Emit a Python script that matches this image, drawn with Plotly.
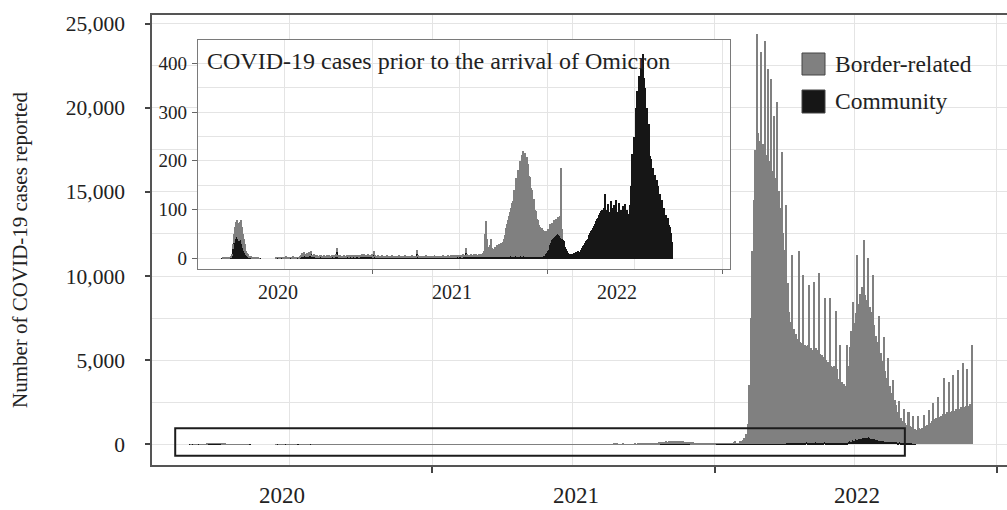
import pandas as pd
import plotly.graph_objects as go

# Reported COVID-19 cases, summed over consecutive 2-day bins.
# Each year's list starts at the date given in BIN_START.
BIN_START = {"2020": "2020-02-20", "2021": "2021-01-01", "2022": "2022-01-01"}
OMICRON_ARRIVAL = "2022-02-01"

community_2020 = [
    0, 1, 1, 1, 1, 2, 1, 1, 1, 2,
    3, 7, 20, 32, 40, 44, 45, 40, 36, 38,
    38, 30, 22, 17, 12, 10, 7, 5, 4, 3,
    2, 2, 1, 1, 0, 1, 1, 0, 1, 0,
    1, 0, 0, 0, 0, 0, 0, 0, 0, 0,
    0, 0, 0, 0, 0, 0, 0, 1, 1, 2,
    1, 1, 2, 1, 1, 2, 1, 2, 1, 2,
    1, 1, 2, 1, 2, 2, 1, 2, 1, 1,
    2, 1, 2, 5, 7, 5, 8, 6, 5, 6,
    5, 8, 6, 9, 4, 5, 6, 4, 3, 4,
    5, 2, 3, 4, 4, 2, 3, 4, 2, 3,
    4, 2, 4, 3, 2, 4, 5, 3, 4, 5,
    14, 5, 3, 2, 4, 3, 2, 3, 4, 2,
    3, 4, 4, 3, 5, 4, 3, 4, 4, 2,
    4, 5, 4, 3, 4, 5, 6, 4, 4, 5,
    4, 4, 5, 6, 4, 4, 5, 5,
]
border_2020 = [
    0, 0, 1, 0, 1, 1, 1, 0, 1, 1,
    1, 3, 10, 18, 25, 32, 35, 34, 34, 38,
    42, 36, 28, 23, 18, 14, 9, 7, 5, 3,
    3, 2, 2, 1, 1, 1, 1, 1, 1, 1,
    0, 0, 0, 0, 0, 0, 0, 0, 0, 0,
    0, 0, 0, 0, 0, 0, 0, 1, 0, 1,
    1, 1, 1, 0, 1, 1, 1, 2, 1, 1,
    1, 0, 1, 1, 1, 2, 1, 1, 1, 0,
    1, 1, 2, 3, 5, 4, 6, 4, 3, 5,
    4, 5, 4, 6, 2, 3, 4, 3, 2, 2,
    3, 2, 2, 3, 2, 2, 2, 2, 1, 2,
    3, 2, 2, 2, 2, 2, 3, 2, 2, 4,
    8, 3, 2, 2, 2, 2, 1, 2, 2, 2,
    2, 3, 2, 2, 3, 2, 2, 3, 2, 2,
    2, 3, 3, 2, 2, 3, 4, 3, 2, 4,
    3, 2, 3, 4, 3, 2, 3, 4,
]

community_2021 = [
    3, 8, 4, 2, 3, 4, 2, 2, 3, 4,
    2, 3, 2, 2, 4, 3, 2, 2, 3, 2,
    4, 2, 2, 3, 2, 2, 3, 4, 2, 2,
    3, 2, 2, 4, 2, 3, 2, 2, 3, 2,
    2, 4, 3, 2, 2, 3, 10, 4, 2, 3,
    2, 2, 3, 2, 2, 4, 2, 2, 3, 2,
    2, 3, 2, 2, 4, 2, 3, 2, 2, 3,
    2, 2, 3, 4, 2, 2, 3, 2, 4, 3,
    2, 4, 3, 4, 3, 4, 2, 4, 4, 3,
    4, 5, 4, 3, 6, 5, 4, 12, 5, 4,
    5, 4, 6, 4, 5, 6, 4, 6, 5, 4,
    5, 5, 6, 4, 5, 7, 4, 5, 3, 4,
    3, 4, 3, 5, 3, 4, 3, 4, 3, 4,
    3, 4, 3, 4, 5, 4, 4, 5, 4, 5,
    4, 5, 4, 5, 5, 4, 5, 4, 5, 5,
    4, 5, 4, 5, 5, 4, 5, 5, 4, 5,
    4, 5, 4, 5, 4, 5, 4, 5, 4, 4,
    5, 4, 4, 5, 4, 5, 4, 5, 6, 9,
    12, 15, 18,
]
border_2021 = [
    2, 7, 2, 2, 2, 3, 2, 1, 2, 2,
    2, 2, 1, 2, 2, 2, 1, 2, 2, 2,
    2, 1, 2, 2, 2, 1, 2, 2, 2, 1,
    2, 2, 1, 2, 2, 2, 1, 2, 2, 1,
    2, 2, 2, 2, 1, 2, 8, 2, 2, 2,
    1, 2, 2, 1, 2, 2, 2, 1, 2, 2,
    1, 2, 2, 1, 2, 2, 2, 1, 2, 2,
    2, 1, 2, 2, 2, 1, 2, 2, 2, 2,
    2, 2, 2, 3, 2, 2, 2, 3, 2, 2,
    2, 3, 3, 2, 3, 3, 3, 10, 4, 2,
    3, 3, 4, 2, 3, 3, 3, 4, 3, 3,
    4, 3, 4, 3, 4, 5, 11, 45, 74, 36,
    22, 16, 25, 35, 19, 14, 17, 21, 19, 24,
    22, 26, 25, 28, 25, 31, 36, 43, 51, 58,
    68, 75, 84, 90, 100, 111, 113, 138, 133, 160,
    146, 177, 166, 195, 183, 210, 216, 200, 214, 191,
    204, 183, 191, 165, 164, 140, 138, 115, 118, 96,
    93, 78, 76, 65, 62, 58, 59, 55, 52, 48,
    45, 43, 42,
]

community_2022 = [
    22, 29, 33, 38, 40, 43, 45, 47, 49, 50,
    50, 48, 46, 43, 40, 38, 36, 30, 25, 20,
    15, 12, 9, 9, 10, 8, 10, 12, 11, 14,
    12, 15, 14, 13, 18, 22, 26, 29, 32, 36,
    38, 41, 43, 48, 52, 56, 60, 63, 68, 72,
    78, 82, 84, 90, 94, 98, 100, 96, 105, 132,
    100, 84, 112, 88, 96, 118, 90, 104, 86, 110,
    92, 120, 96, 88, 114, 90, 100, 84, 108, 96,
    112, 94, 100, 80, 92, 110, 150, 215, 160, 250,
    230, 310, 290, 345, 330, 375, 360, 392, 385, 420,
    370, 351, 300, 310, 250, 276, 210, 205, 180, 187,
    160, 172, 150, 162, 140, 150, 125, 132, 110, 120,
    100, 104, 86, 90, 80, 84, 70, 66, 52, 35,
    0, 0, 0, 0, 0, 0, 0, 0, 0, 0,
    0, 0, 0, 0, 0, 0, 0, 0, 0, 0,
    0, 0, 0, 0, 0, 0, 0, 0, 0, 0,
    0, 0, 0, 0, 0, 0, 0,
]
border_2022 = [
    40, 30, 38, 26, 34, 27, 35, 28, 33, 26,
    36, 33, 42, 144, 22, 12, 150, 200, 250, 350,
    600, 1200, 3500, 7500, 11500, 14500, 17500, 24350, 18500, 18000,
    23270, 17800, 23950, 17200, 22260, 16800, 21670, 16200, 19490, 15800,
    20300, 15000, 14000, 17330, 12500, 11500, 14140, 9500, 7800, 7200,
    11170, 6800, 6500, 6200, 11380, 6000, 5900, 9980, 5800, 5700,
    5800, 9380, 5600, 5500, 9580, 5600, 5500, 10080, 5300, 5200,
    5100, 8590, 4900, 4800, 8590, 4600, 4500, 4600, 7810, 4400,
    3800, 5810, 3600, 3500, 3400, 5800, 4500, 5600, 6600, 8190,
    7000, 7500, 10970, 8000, 8600, 9000, 11760, 8500, 8200, 10670,
    7800, 7500, 9780, 6800, 6200, 5800, 7400, 5200, 4800, 6200,
    4200, 3800, 5000, 3300, 2900, 3650, 2500, 2200, 1800, 2450,
    1500, 1300, 2050, 1200, 1100, 1850, 1000, 950, 1650, 900,
    880, 1700, 950, 900, 1000, 1750, 1100, 1150, 2050, 1300,
    1400, 2450, 1500, 1550, 2840, 1650, 1700, 1800, 3950, 1800,
    1900, 3700, 1900, 2000, 4130, 2000, 2100, 4430, 2100, 2200,
    4840, 2200, 2300, 4500, 2300, 2400, 5920,
]

series_names = ["Border-related", "Community"]
main_year_labels = ["2020", "2021", "2022"]
main_label_dates = ["2020-06-21", "2021-07-06", "2022-07-04"]
inset_year_labels = ["2020", "2021", "2022"]
inset_label_dates = ["2020-06-18", "2021-06-16", "2022-05-26"]
inset_title = "COVID-19 cases prior to the arrival of Omicron"
y_title = "Number of COVID-19 cases reported"

# ---------------------------------------------------------------- data prep
years = [
    ("2020", community_2020, border_2020),
    ("2021", community_2021, border_2021),
    ("2022", community_2022, border_2022),
]
frames = []
for year, comm, bord in years:
    assert len(comm) == len(bord)
    centres = pd.date_range(BIN_START[year], periods=len(comm), freq="2D") + pd.Timedelta(days=1)
    frames.append(pd.DataFrame({"date": centres, "community": comm, "border": bord}))
df = pd.concat(frames, ignore_index=True)
pre = df[df["date"] < pd.Timestamp(OMICRON_ARRIVAL)]

BAR_W = 2 * 24 * 3600 * 1000  # two days, in ms
GREY = "#808080"
BLACK = "#161616"
FONT = "Liberation Serif"
TXT = "#222222"
GRID = "#e4e4e4"

# ---------------------------------------------------------------- geometry
W, H = 1007, 510
ML, MR, MT, MB = 152, 0, 15, 45
PW, PH = W - ML - MR, H - MT - MB


def px_x(x):
    return (x - ML) / PW


def px_y(y):
    return (H - MB - y) / PH


fig = go.Figure()
bar_common = dict(width=BAR_W, marker_line_width=0, showlegend=False, hoverinfo="skip")
fig.add_trace(go.Bar(x=df["date"], y=df["community"], marker_color=BLACK,
                     name=series_names[1], xaxis="x", yaxis="y", **bar_common))
fig.add_trace(go.Bar(x=df["date"], y=df["border"], marker_color=GREY,
                     name=series_names[0], xaxis="x", yaxis="y", **bar_common))
fig.add_trace(go.Bar(x=df["date"], y=df["community"], marker_color=BLACK,
                     name=series_names[1], xaxis="x2", yaxis="y2", **bar_common))
fig.add_trace(go.Bar(x=pre["date"], y=pre["border"], marker_color=GREY,
                     name=series_names[0], xaxis="x2", yaxis="y2", **bar_common))

jan1 = ["2020-01-01", "2021-01-01", "2022-01-01", "2023-01-01"]
jul1 = ["2020-07-01", "2021-07-01", "2022-07-01"]

fig.update_layout(
    width=W, height=H,
    margin=dict(l=ML, r=MR, t=MT, b=MB, pad=0),
    paper_bgcolor="white", plot_bgcolor="white",
    barmode="stack", bargap=0,
    font=dict(family=FONT, color=TXT),
    showlegend=False,
    xaxis=dict(
        domain=[0, 1], anchor="y", type="date",
        range=["2020-01-05", "2023-01-14"],
        tickmode="array", tickvals=jan1, ticktext=["", "", "", ""],
        ticks="outside", ticklen=6, tickwidth=1.5, tickcolor="#444",
        showgrid=True, gridcolor=GRID, gridwidth=1,
        minor=dict(tickmode="array", tickvals=jul1, showgrid=True,
                   gridcolor=GRID, gridwidth=1, ticks=""),
        showline=True, linecolor="#555", linewidth=1.5, mirror=True,
        zeroline=False,
    ),
    yaxis=dict(
        domain=[0, 1], anchor="x",
        range=[-1219, 25505],
        tickmode="array", tickvals=[0, 5000, 10000, 15000, 20000, 25000],
        tickformat=",", ticks="outside", ticklen=5, tickwidth=1.5, tickcolor="#444",
        tickfont=dict(size=21.5, family=FONT, color=TXT), ticklabelstandoff=16,
        showgrid=True, gridcolor=GRID, gridwidth=1,
        minor=dict(tickmode="linear", tick0=0, dtick=2500, showgrid=True,
                   gridcolor=GRID, gridwidth=1, ticks=""),
        showline=True, linecolor="#555", linewidth=1.5, mirror=False,
        zeroline=False,
    ),
    xaxis2=dict(
        domain=[px_x(198), px_x(730)], anchor="y2", type="date",
        range=["2020-01-03", "2023-01-16"],
        tickmode="array", tickvals=jan1, ticktext=["", "", "", ""],
        ticks="outside", ticklen=4, tickwidth=1, tickcolor="#666",
        showgrid=True, gridcolor=GRID, gridwidth=1,
        minor=dict(tickmode="array", tickvals=jul1, showgrid=True,
                   gridcolor=GRID, gridwidth=1, ticks=""),
        showline=True, linecolor="#7a7a7a", linewidth=1.2, mirror=True,
        zeroline=False,
    ),
    yaxis2=dict(
        domain=[px_y(269), px_y(39.5)], anchor="x2",
        range=[-22, 449],
        tickmode="array", tickvals=[0, 100, 200, 300, 400],
        ticks="outside", ticklen=5, tickwidth=1, tickcolor="#666",
        tickfont=dict(size=19, family=FONT, color=TXT), ticklabelstandoff=1,
        showgrid=True, gridcolor=GRID, gridwidth=1,
        minor=dict(tickmode="linear", tick0=0, dtick=50, showgrid=True,
                   gridcolor=GRID, gridwidth=1, ticks=""),
        showline=True, linecolor="#7a7a7a", linewidth=1.2, mirror=True,
        zeroline=False,
    ),
)

annotations = []
for lab, d in zip(main_year_labels, main_label_dates):
    annotations.append(dict(x=d, xref="x", y=px_y(495), yref="paper", text=lab,
                            showarrow=False, xanchor="center", yanchor="middle",
                            font=dict(size=23, family=FONT, color=TXT)))
for lab, d in zip(inset_year_labels, inset_label_dates):
    annotations.append(dict(x=d, xref="x2", y=px_y(292), yref="paper", text=lab,
                            showarrow=False, xanchor="center", yanchor="middle",
                            font=dict(size=20, family=FONT, color=TXT)))
annotations.append(dict(x=px_x(20), y=px_y(250), xref="paper", yref="paper",
                        text=y_title, textangle=-90, showarrow=False,
                        xanchor="center", yanchor="middle",
                        font=dict(size=21, family=FONT, color=TXT)))
annotations.append(dict(x=px_x(205), y=px_y(60.5), xref="paper", yref="paper",
                        text=inset_title, showarrow=False,
                        xanchor="left", yanchor="middle",
                        font=dict(size=24, family=FONT, color=TXT)))

# Legend drawn as swatches plus labels
legend_rows = [(series_names[0], GREY, 53, 75, 64), (series_names[1], BLACK, 90, 113, 101)]
shapes = []
for name, colour, top, bottom, mid in legend_rows:
    shapes.append(dict(type="rect", xref="paper", yref="paper",
                       x0=px_x(802), x1=px_x(825), y0=px_y(bottom), y1=px_y(top),
                       fillcolor=colour, line=dict(color="#444", width=1)))
    annotations.append(dict(x=px_x(833), y=px_y(mid), xref="paper", yref="paper",
                            text=name, showarrow=False, xanchor="left", yanchor="middle",
                            font=dict(size=23.5, family=FONT, color=TXT)))

# Outline marking the region enlarged in the inset
shapes.append(dict(type="rect", xref="x", yref="y",
                   x0="2020-02-04", x1="2022-09-04", y0=-670, y1=965,
                   line=dict(color="#1c1c1c", width=2), fillcolor="rgba(0,0,0,0)",
                   layer="above"))

fig.update_layout(annotations=annotations, shapes=shapes)

fig.write_html("out.html", config={"displayModeBar": False})
